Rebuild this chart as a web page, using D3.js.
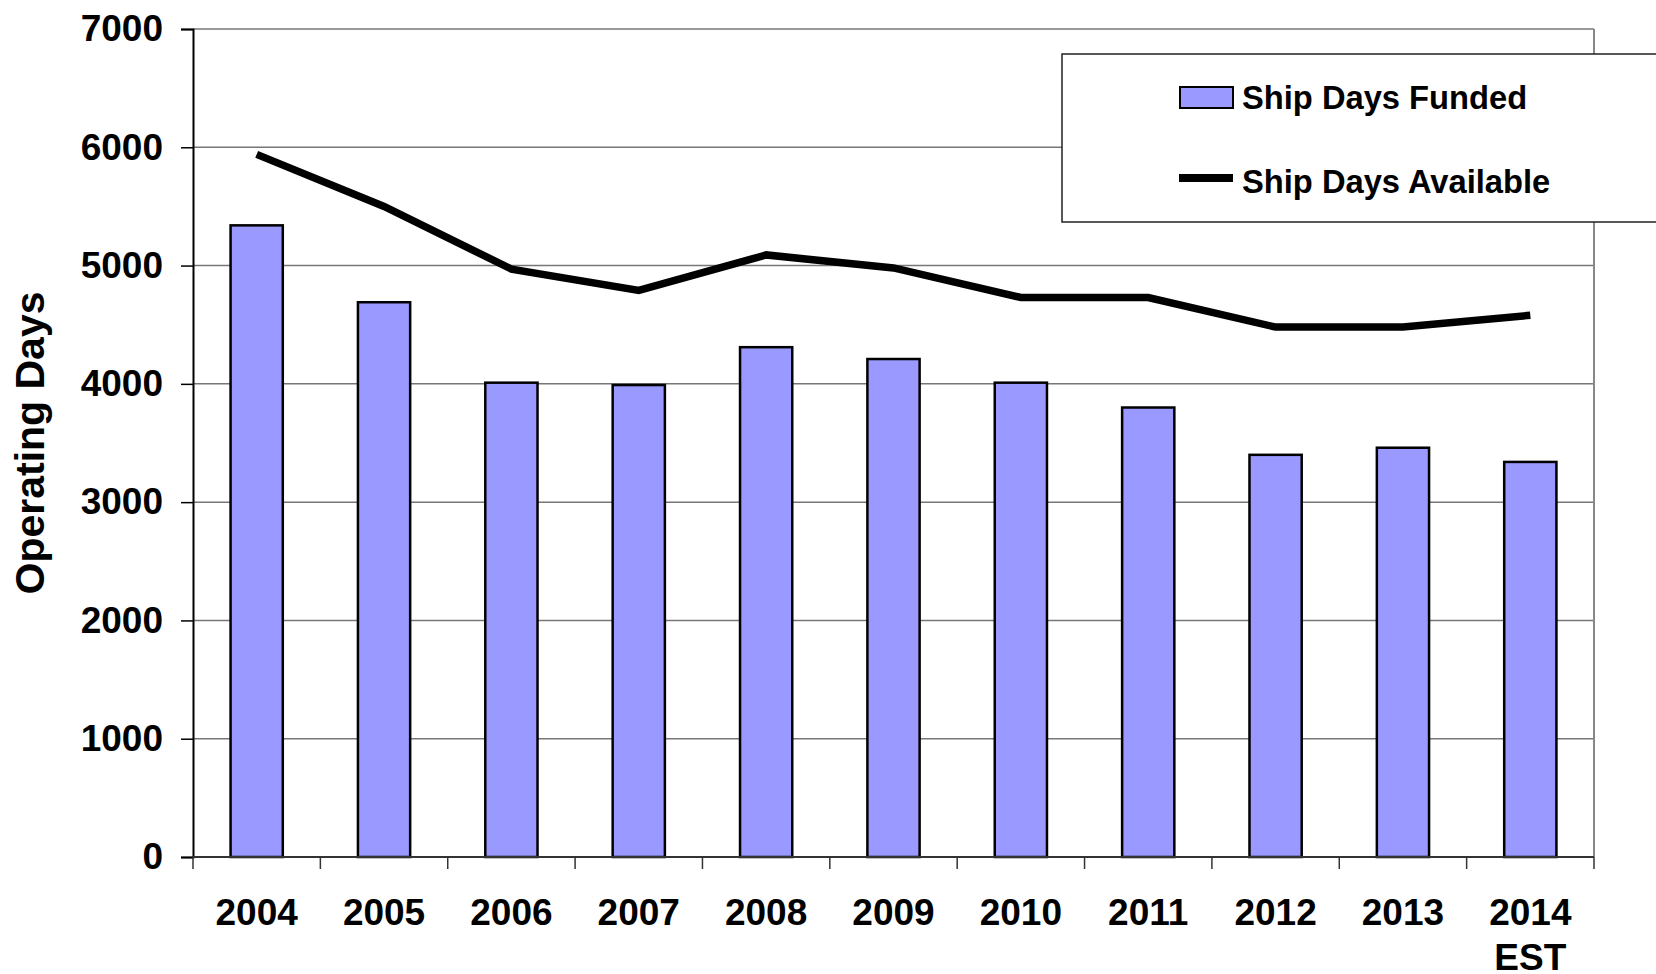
<!DOCTYPE html>
<html>
<head>
<meta charset="utf-8">
<script src="https://cdn.jsdelivr.net/npm/d3@7"></script>
<style>
  body { margin: 0; background: #fff; }
  text { font-family: "Liberation Sans", Arial, sans-serif; font-weight: bold; fill: #000; }
</style>
</head>
<body>
<svg id="chart" width="1656" height="974"></svg>
<script>
var years = ["2004", "2005", "2006", "2007", "2008", "2009", "2010", "2011", "2012", "2013", "2014"];
var yearLabels = [["2004"], ["2005"], ["2006"], ["2007"], ["2008"], ["2009"], ["2010"], ["2011"], ["2012"], ["2013"], ["2014", "EST"]];
var daysFunded = [5340, 4690, 4010, 3990, 4310, 4210, 4010, 3800, 3400, 3460, 3340];
var daysAvailable = [5940, 5500, 4970, 4790, 5090, 4980, 4730, 4730, 4480, 4480, 4580];
var yTicks = [0, 1000, 2000, 3000, 4000, 5000, 6000, 7000];
var seriesNames = ["Ship Days Funded", "Ship Days Available"];

var svg = d3.select("#chart");
var margin = {left: 193, top: 29, right: 62, bottom: 117};
var width = 1656 - margin.left - margin.right;
var height = 974 - margin.top - margin.bottom;

var xScale = d3.scaleBand().domain(years).range([0, width]).padding(0);
var yScale = d3.scaleLinear().domain([0, 7000]).range([height, 0]);

var g = svg.append("g")
  .attr("transform", "translate(" + margin.left + "," + margin.top + ")");

// gridlines
g.append("g")
  .selectAll("line")
  .data(yTicks.slice(1))
  .enter()
  .append("line")
  .attr("x1", 0)
  .attr("x2", width)
  .attr("y1", function(d) { return yScale(d); })
  .attr("y2", function(d) { return yScale(d); })
  .attr("stroke", "#777")
  .attr("stroke-width", 1.5);

// right border
g.append("line")
  .attr("x1", width).attr("x2", width)
  .attr("y1", 0).attr("y2", height)
  .attr("stroke", "#888")
  .attr("stroke-width", 2);

// bars
var barW = xScale.bandwidth() * 0.41;
g.append("g")
  .selectAll("rect")
  .data(daysFunded)
  .enter()
  .append("rect")
  .attr("x", function(d, i) { return xScale(years[i]) + (xScale.bandwidth() - barW) / 2; })
  .attr("y", function(d) { return yScale(d); })
  .attr("width", barW)
  .attr("height", function(d) { return height - yScale(d); })
  .attr("fill", "#9999ff")
  .attr("stroke", "#000")
  .attr("stroke-width", 2.5);

// line
var line = d3.line()
  .x(function(d, i) { return xScale(years[i]) + xScale.bandwidth() / 2; })
  .y(function(d) { return yScale(d); });

g.append("path")
  .datum(daysAvailable)
  .attr("d", line)
  .attr("fill", "none")
  .attr("stroke", "#000")
  .attr("stroke-width", 7.5);

// y axis
var yAxis = g.append("g")
  .call(d3.axisLeft(yScale).tickValues(yTicks).tickSize(12).tickPadding(18).tickFormat(d3.format("d")));
yAxis.select(".domain").attr("stroke", "#000").attr("stroke-width", 2);
yAxis.selectAll(".tick line").attr("stroke", "#000").attr("stroke-width", 1.5);
yAxis.selectAll(".tick text")
  .style("font-size", "37px")
  .style("font-family", "'Liberation Sans', Arial, sans-serif")
  .style("font-weight", "bold")
  .attr("fill", "#000");

// x axis
g.append("line")
  .attr("x1", 0).attr("x2", width)
  .attr("y1", height).attr("y2", height)
  .attr("stroke", "#333")
  .attr("stroke-width", 2);

var boundaries = years.map(function(y) { return xScale(y); }).concat([width]);
g.append("g")
  .selectAll("line")
  .data(boundaries)
  .enter()
  .append("line")
  .attr("x1", function(d) { return d; })
  .attr("x2", function(d) { return d; })
  .attr("y1", height)
  .attr("y2", height + 12)
  .attr("stroke", "#333")
  .attr("stroke-width", 1.5);

var xLabels = g.append("g")
  .selectAll("text")
  .data(yearLabels)
  .enter()
  .append("text")
  .attr("text-anchor", "middle")
  .style("font-size", "37px")
  .attr("x", function(d, i) { return xScale(years[i]) + xScale.bandwidth() / 2; })
  .attr("y", height + 68);

xLabels.selectAll("tspan")
  .data(function(d) { return d; })
  .enter()
  .append("tspan")
  .attr("x", function() { return d3.select(this.parentNode).attr("x"); })
  .attr("dy", function(d, i) { return i == 0 ? 0 : 45; })
  .text(function(d) { return d; });

// y title
svg.append("text")
  .attr("transform", "translate(44," + (margin.top + height / 2) + ") rotate(-90)")
  .attr("text-anchor", "middle")
  .style("font-size", "41px")
  .text("Operating Days");

// legend
var legend = svg.append("g");
legend.append("rect")
  .attr("x", 1062)
  .attr("y", 54)
  .attr("width", 700)
  .attr("height", 168)
  .attr("fill", "#fff")
  .attr("stroke", "#222")
  .attr("stroke-width", 1.5);

legend.append("rect")
  .attr("x", 1180)
  .attr("y", 87)
  .attr("width", 53)
  .attr("height", 21)
  .attr("fill", "#9999ff")
  .attr("stroke", "#000")
  .attr("stroke-width", 2);

legend.append("line")
  .attr("x1", 1179).attr("x2", 1233)
  .attr("y1", 178).attr("y2", 178)
  .attr("stroke", "#000")
  .attr("stroke-width", 8);

legend.selectAll("text.leg")
  .data(seriesNames)
  .enter()
  .append("text")
  .attr("class", "leg")
  .attr("x", 1242)
  .attr("y", function(d, i) { return i == 0 ? 109 : 193; })
  .style("font-size", "32.7px")
  .text(function(d) { return d; });
</script>
</body>
</html>
